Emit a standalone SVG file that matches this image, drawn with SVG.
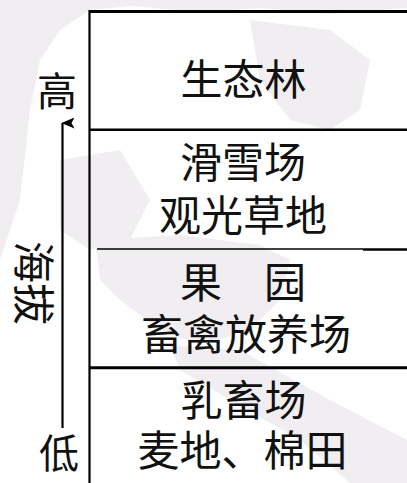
<svg xmlns="http://www.w3.org/2000/svg" width="407" height="483" viewBox="0 0 407 483">
  <defs>
    <style>
      .t { font-family: "Noto Sans CJK SC", "Noto Sans CJK JP", sans-serif; font-size: 42px; fill: #111; text-anchor: middle; }
      .s { font-family: "Noto Sans CJK SC", "Noto Sans CJK JP", sans-serif; font-size: 40px; fill: #111; text-anchor: middle; }
      .ln { stroke: #000; fill: none; }
      .wm { fill: #f1eef1; stroke: none; }
    </style>
    <marker id="ah" viewBox="0 0 11 13" refX="5.5" refY="1" markerWidth="11" markerHeight="13" markerUnits="userSpaceOnUse" orient="auto-start-reverse">
      <path d="M5.5,0 L11,13 L5.5,10 L0,13 Z" fill="#000"/>
    </marker>
  </defs>
  <rect width="407" height="483" fill="#fff"/>
  <g id="watermark">
    <path class="wm" d="M0,0 L407,0 L407,8 L330,14 L260,8 L200,12 L130,6 L90,10 L60,30 L40,60 L30,110 L20,200 L0,260 Z"/>
    <path class="wm" d="M250,20 L330,30 L370,60 L360,110 L330,130 L290,120 L260,80 Z"/>
    <path class="wm" d="M95,240 L180,235 L260,245 L290,260 L280,300 L250,330 L200,345 L160,330 L120,300 L100,280 Z"/>
    <path class="wm" d="M60,160 L120,150 L150,200 L130,240 L90,250 L60,230 Z"/>
    <path class="wm" d="M170,345 L240,350 L330,400 L407,440 L407,483 L350,483 L300,440 L230,400 L180,370 Z"/>
  </g>
  <g id="frame">
    <line class="ln" x1="89.5" y1="11.5" x2="407" y2="11.5" stroke-width="3"/>
    <line class="ln" x1="89.5" y1="10" x2="89.5" y2="483" stroke-width="2.2"/>
    <line class="ln" x1="89.5" y1="129.8" x2="407" y2="129.8" stroke-width="2.5"/>
    <line class="ln" x1="97" y1="249" x2="363" y2="249" stroke-width="1.6"/>
    <line class="ln" x1="363" y1="249.5" x2="407" y2="249.5" stroke-width="2.6"/>
    <line class="ln" x1="89.5" y1="367.8" x2="407" y2="367.8" stroke-width="3"/>
  </g>
  <g id="node-forest">
    <text class="t" x="243.5" y="94.5">生态林</text>
  </g>
  <g id="node-ski">
    <text class="t" x="243" y="178">滑雪场</text>
    <text class="t" x="243" y="231">观光草地</text>
  </g>
  <g id="node-orchard">
    <text class="t" x="243" y="297.5">果　园</text>
    <text class="t" x="246" y="350">畜禽放养场</text>
  </g>
  <g id="node-dairy">
    <text class="t" x="243.5" y="416">乳畜场</text>
    <text class="t" x="242.5" y="466">麦地、棉田</text>
  </g>
  <g id="axis">
    <line class="ln" x1="62.5" y1="428" x2="62.5" y2="123" stroke-width="2.2" marker-end="url(#ah)"/>
    <text class="s" x="57" y="106">高</text>
    <text class="s" x="59" y="468">低</text>
    <text class="t" transform="translate(34,283) rotate(90)" x="0" y="16">海拔</text>
  </g>
</svg>
